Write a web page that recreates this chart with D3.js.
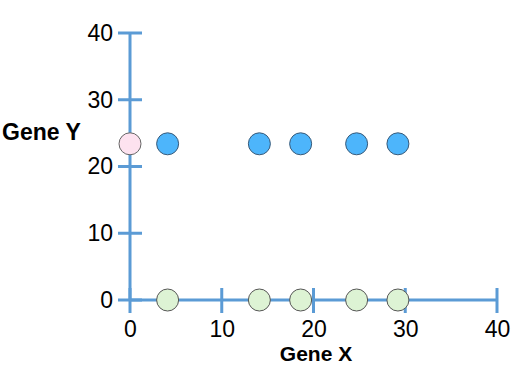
<!DOCTYPE html>
<html>
<head>
<meta charset="utf-8">
<script src="https://cdn.jsdelivr.net/npm/d3@7"></script>
<style>
  body { margin: 0; background: #fff; }
  text { font-family: "Liberation Sans", Arial, sans-serif; }
</style>
</head>
<body>
<svg id="chart" width="531" height="369"></svg>
<script>
// values
const xTicks = [0, 10, 20, 30, 40]
const yTicks = [0, 10, 20, 30, 40]
const geneX = [4.1, 14.1, 18.6, 24.7, 29.2]
const geneYHigh = 23.4
const pinkPoint = [0, 23.4]

const axisColor = "#5b9bd5"

const svg = d3.select("#chart")
const x = d3.scaleLinear().domain([0, 40]).range([130, 497])
const y = d3.scaleLinear().domain([0, 40]).range([300, 33])

// y axis
const yAxis = d3.axisLeft(y).tickValues(yTicks).tickSize(0).tickPadding(17)
const gy = svg.append("g").attr("transform", "translate(" + x(0) + ",0)").call(yAxis)
gy.select(".domain").remove()
gy.selectAll("text").style("font-size", "23px").attr("fill", "#000")
svg.append("line")
  .attr("x1", x(0)).attr("x2", x(0))
  .attr("y1", y(0)).attr("y2", y(40))
  .attr("stroke", axisColor).attr("stroke-width", 3)
svg.selectAll(".ytick").data(yTicks).enter().append("line")
  .attr("class", "ytick")
  .attr("x1", x(0) - 12).attr("x2", x(0) + 12)
  .attr("y1", d => y(d)).attr("y2", d => y(d))
  .attr("stroke", axisColor).attr("stroke-width", 3)

// x axis
const xAxis = d3.axisBottom(x).tickValues(xTicks).tickSize(0).tickPadding(21)
const gx = svg.append("g").attr("transform", "translate(0," + y(0) + ")").call(xAxis)
gx.select(".domain").remove()
gx.selectAll("text").style("font-size", "23px").attr("fill", "#000")
svg.append("line")
  .attr("x1", x(0)).attr("x2", x(40))
  .attr("y1", y(0)).attr("y2", y(0))
  .attr("stroke", axisColor).attr("stroke-width", 3)
svg.selectAll(".xtick").data(xTicks).enter().append("line")
  .attr("class", "xtick")
  .attr("x1", d => x(d)).attr("x2", d => x(d))
  .attr("y1", y(0) - 12).attr("y2", y(0) + 13)
  .attr("stroke", axisColor).attr("stroke-width", 3)

// points
const r = 11
svg.selectAll(".green").data(geneX).enter().append("circle")
  .attr("cx", d => x(d)).attr("cy", y(0)).attr("r", r)
  .attr("fill", "#ddf3d4").attr("stroke", "#555").attr("stroke-width", 1)
svg.selectAll(".blue").data(geneX).enter().append("circle")
  .attr("cx", d => x(d)).attr("cy", y(geneYHigh)).attr("r", r)
  .attr("fill", "#4db5fb").attr("stroke", "#3a5a78").attr("stroke-width", 1)
svg.append("circle")
  .attr("cx", x(pinkPoint[0])).attr("cy", y(pinkPoint[1])).attr("r", r)
  .attr("fill", "#fde2ef").attr("stroke", "#666").attr("stroke-width", 1)

// axis titles
svg.append("text").attr("x", 2).attr("y", 140)
  .style("font-size", "23px").style("font-weight", "bold").text("Gene Y")
svg.append("text").attr("x", 316).attr("y", 361).attr("text-anchor", "middle")
  .style("font-size", "21px").style("font-weight", "bold").text("Gene X")
</script>
</body>
</html>
